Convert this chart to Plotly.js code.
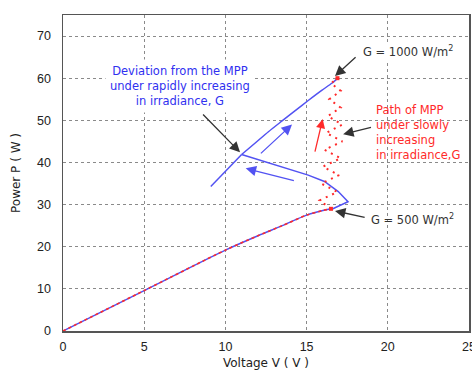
<!DOCTYPE html>
<html>
<head>
<meta charset="utf-8">
<script src="https://cdn.plot.ly/plotly-3.0.1.min.js"></script>
<style>html,body{margin:0;padding:0;background:#fff;}#chart{width:472px;height:370px;}</style>
</head>
<body>
<div id="chart"></div>
<script>
// PV curve at G = 500 W/m2 (up to its MPP)
const curve500V = [0, 5, 10, 12, 13.5, 15, 16.0, 16.5];
const curve500P = [0, 9.6, 19.2, 22.6, 25.0, 27.5, 28.6, 29.0];

// Operating point under rapidly increasing irradiance
const rapidDownV = [16.55, 17.55, 16.95, 16.1, 15.1, 13.05, 11.0];
const rapidDownP = [28.9, 30.7, 33.1, 35.5, 37.0, 39.4, 41.9];
const tailV = [9.1, 11.0];
const tailP = [34.3, 41.9];
const rapidUpV = [11.0, 11.8, 12.65, 13.47, 14.3, 15.1, 15.93, 16.55, 16.9];
const rapidUpP = [41.9, 44.5, 47.3, 49.8, 52.3, 54.7, 57.1, 58.8, 59.9];

// Path of the MPP under slowly increasing irradiance
const slowV = [16.5, 15.8, 16.9, 15.9, 17.0, 16.0, 17.1, 16.1, 17.2, 16.2, 17.2, 16.3, 17.1, 16.4, 17.1, 16.5, 16.9];
const slowP = [29.0, 31.0, 33.0, 35.0, 37.0, 39.0, 41.0, 43.0, 45.0, 47.0, 49.0, 51.0, 53.0, 55.0, 57.0, 58.8, 60.0];

// MPPs
const mppV = [16.5, 16.9];
const mppP = [29.0, 60.0];

const xTicks = [0, 5, 10, 15, 20, 25];
const yTicks = [0, 10, 20, 30, 40, 50, 60, 70];

const BLUE = '#5252f2';
const RED = '#ff2a2a';
const DARK = '#333333';

const traces = [
  {x: curve500V, y: curve500P, mode: 'lines', line: {color: BLUE, width: 1.5, shape: 'spline', smoothing: 0.8}},
  {x: rapidDownV, y: rapidDownP, mode: 'lines', line: {color: BLUE, width: 1.5}},
  {x: tailV, y: tailP, mode: 'lines', line: {color: BLUE, width: 1.5}},
  {x: rapidUpV, y: rapidUpP, mode: 'lines', line: {color: BLUE, width: 1.5, shape: 'spline', smoothing: 0.7}},
  {x: curve500V, y: curve500P, mode: 'lines', line: {color: RED, width: 1.6, dash: 'dot', shape: 'spline', smoothing: 0.8}},
  {x: slowV, y: slowP, mode: 'lines', line: {color: RED, width: 2, dash: '2px,5px'}},
  {x: mppV, y: mppP, mode: 'markers', marker: {color: RED, size: 4, symbol: 'square'}}
];

const txtFont = {family: 'DejaVu Sans', size: 11.5};

function arrow(x, y, ax, ay, color, size) {
  return {x: x, y: y, ax: ax, ay: ay, xref: 'x', yref: 'y', axref: 'x', ayref: 'y',
    text: ' ', showarrow: true, arrowhead: 2, arrowsize: size, arrowwidth: 1.3, arrowcolor: color};
}

const layout = {
  width: 472, height: 370,
  margin: {l: 63, r: 3, t: 15, b: 39},
  paper_bgcolor: '#fff', plot_bgcolor: '#fff',
  showlegend: false,
  xaxis: {
    range: [0, 25], tickvals: xTicks, ticktext: xTicks.map(String),
    showgrid: true, gridcolor: '#8a8a8a', griddash: 'dot', gridwidth: 1,
    zeroline: false, showline: true, mirror: true, linecolor: '#555', linewidth: 1.5,
    ticks: '', ticklabelstandoff: 3, ticklabeloverflow: 'allow',
    tickfont: {family: 'Liberation Sans', size: 12.5, color: '#222'},
    title: {text: 'Voltage V ( V )', font: {family: 'DejaVu Sans', size: 12, color: '#222'}, standoff: 8}
  },
  yaxis: {
    range: [0, 75], tickvals: yTicks, ticktext: yTicks.map(String),
    showgrid: true, gridcolor: '#8a8a8a', griddash: 'dot', gridwidth: 1,
    zeroline: false, showline: true, mirror: true, linecolor: '#555', linewidth: 1.5,
    ticks: '', ticklabelstandoff: 8,
    tickfont: {family: 'Liberation Sans', size: 12.5, color: '#222'},
    title: {text: 'Power P ( W )', font: {family: 'DejaVu Sans', size: 12, color: '#222'}, standoff: 14}
  },
  annotations: [
    {x: 7.2, y: 58.1, xref: 'x', yref: 'y', showarrow: false, align: 'center',
     text: 'Deviation from the MPP<br>under rapidly increasing<br>in irradiance, G',
     font: Object.assign({color: '#3030f0'}, txtFont), bgcolor: '#fff', borderpad: 4},
    {x: 18.35, y: 66.3, xref: 'x', yref: 'y', xanchor: 'left', showarrow: false,
     text: 'G = 1000 W/m<sup>2</sup>', font: Object.assign({color: DARK}, txtFont), bgcolor: '#fff'},
    {x: 18.84, y: 26.4, xref: 'x', yref: 'y', xanchor: 'left', showarrow: false,
     text: 'G = 500 W/m<sup>2</sup>', font: Object.assign({color: DARK}, txtFont)},
    {x: 19.15, y: 47.0, xref: 'x', yref: 'y', xanchor: 'left', align: 'left', showarrow: false,
     text: 'Path of MPP<br>under slowly<br>increasing<br>in irradiance,G',
     font: Object.assign({color: RED}, txtFont)},
    arrow(10.9, 42.4, 8.44, 52.1, DARK, 1.6),
    arrow(16.75, 60.5, 18.2, 65.6, DARK, 1.6),
    arrow(17.25, 46.7, 19.15, 48.5, DARK, 1.6),
    arrow(16.75, 28.5, 18.76, 26.8, DARK, 1.6),
    arrow(15.99, 50.3, 15.37, 40.2, RED, 1.4),
    arrow(14.1, 49.0, 12.0, 41.5, BLUE, 1.6),
    arrow(11.25, 38.6, 14.4, 35.5, BLUE, 1.6)
  ]
};

Plotly.newPlot('chart', traces, layout, {displayModeBar: false, staticPlot: true});
</script>
</body>
</html>
